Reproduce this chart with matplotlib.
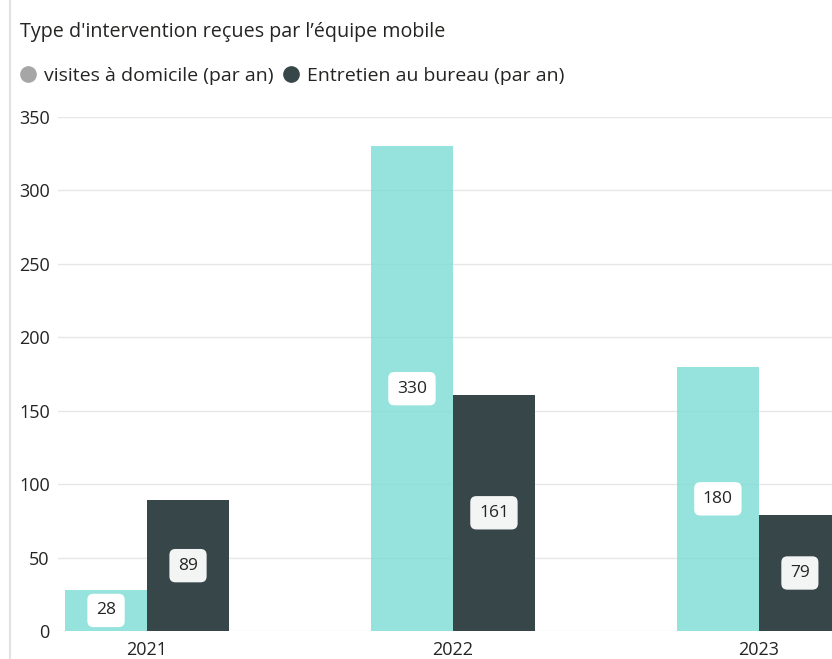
import matplotlib.pyplot as plt
from matplotlib.lines import Line2D
import numpy as np

plt.rcParams['font.family'] = ['Open Sans', 'DejaVu Sans']

# données
annees = ['2021', '2022', '2023']
visites = [28, 330, 180]
entretiens = [89, 161, 79]
series_noms = ['visites à domicile (par an)', 'Entretien au bureau (par an)']
titre = "Type d'intervention reçues par l\u2019équipe mobile"

col_visites = '#84DDD6'
col_entretien = '#374649'
col_texte = '#252423'

fig = plt.figure(figsize=(8.32, 6.59), dpi=100)
ax = fig.add_axes([58 / 832, 28 / 659, 1 - 58 / 832, 514 / 659])

x = np.arange(len(annees))
w = 0.268
b1 = ax.bar(x - w / 2, visites, w, color=col_visites, alpha=0.85, zorder=3)
b2 = ax.bar(x + w / 2, entretiens, w, color=col_entretien, zorder=3)

ax.set_ylim(0, 350)
ax.set_xlim(-0.291, 2.239)
ax.set_yticks(range(0, 351, 50))
ax.set_xticks(x)
ax.set_xticklabels(annees)
ax.grid(axis='y', color='#e6e6e6', linewidth=1, zorder=1)
for s in ax.spines.values():
    s.set_visible(False)
ax.tick_params(length=0, labelsize=13, colors=col_texte)
ax.tick_params(axis='y', pad=6)
ax.tick_params(axis='x', pad=7)

# étiquettes de données au milieu des barres
for rects, vals, fc in [(b1, visites, 'white'), (b2, entretiens, '#f3f4f4')]:
    for r, v in zip(rects, vals):
        ax.text(r.get_x() + r.get_width() / 2, v / 2, str(v), ha='center', va='center',
                fontsize=12.5, color=col_texte, zorder=5, clip_on=True,
                bbox=dict(boxstyle='round,pad=0.5,rounding_size=0.35', fc=fc, ec='none'))

# titre + légende
fig.text(20 / 832, 1 - 32 / 659, titre, fontsize=14.2, color=col_texte, va='center', ha='left')
handles = [Line2D([], [], marker='o', linestyle='', color='#a6a6a6', markersize=11),
           Line2D([], [], marker='o', linestyle='', color=col_entretien, markersize=11)]
fig.legend(handles, series_noms, ncol=2, loc='center left',
           bbox_to_anchor=(9 / 832, 1 - 76 / 659), frameon=False, fontsize=14,
           handlelength=1.0, handletextpad=0.3, columnspacing=0.4, borderpad=0,
           labelcolor=col_texte)

# bordure gauche du visuel
fig.add_artist(Line2D([10 / 832, 10 / 832], [0, 1], color='#e3e3e3', linewidth=1.5,
                      transform=fig.transFigure))

fig.savefig('out.png', dpi=100)
